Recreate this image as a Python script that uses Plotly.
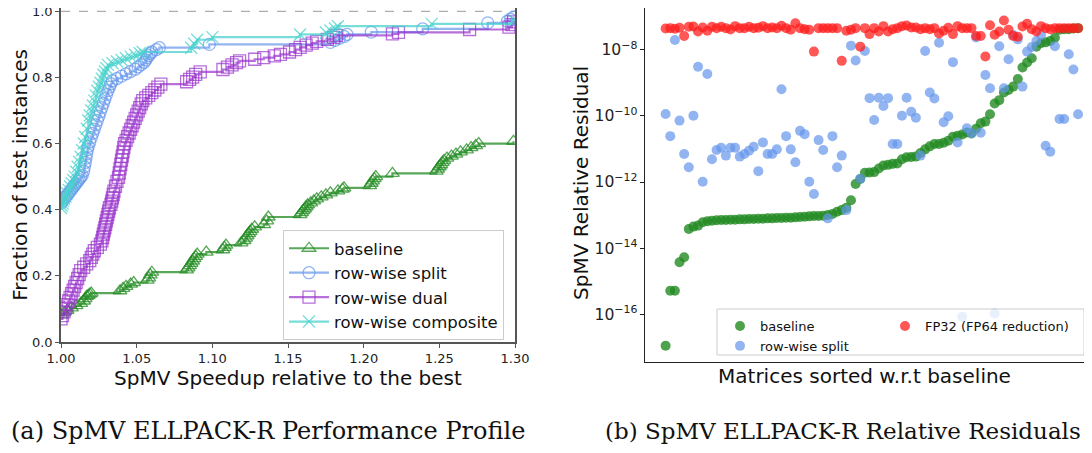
import plotly.graph_objects as go

# ---------------- (a) Performance profile ----------------
# speedup relative to the best (x) and fraction of test instances (y), step points
baseline_x = [1.000, 1.002, 1.004, 1.007, 1.010, 1.013, 1.015, 1.016, 1.017, 1.018, 1.019, 1.020,
              1.039, 1.041, 1.043, 1.046, 1.048,
              1.057, 1.058, 1.059, 1.060,
              1.083, 1.084, 1.085, 1.086, 1.087, 1.088, 1.089, 1.090, 1.096,
              1.107, 1.108, 1.109,
              1.119, 1.121, 1.122, 1.123, 1.124, 1.125, 1.126, 1.128,
              1.134, 1.136, 1.137,
              1.158, 1.159, 1.160, 1.161, 1.162, 1.163, 1.165, 1.167, 1.169, 1.172, 1.175, 1.178, 1.183, 1.186, 1.187,
              1.204, 1.205, 1.206, 1.207, 1.208,
              1.219,
              1.248, 1.249, 1.250, 1.251, 1.252, 1.253, 1.255, 1.258, 1.261, 1.264, 1.268, 1.271, 1.274, 1.276,
              1.299]
baseline_y = [0.082, 0.089, 0.096, 0.103, 0.110, 0.117, 0.124, 0.131, 0.138, 0.141, 0.145, 0.148,
              0.155, 0.162, 0.168, 0.175, 0.180,
              0.187, 0.194, 0.203, 0.211,
              0.218, 0.224, 0.231, 0.238, 0.245, 0.252, 0.259, 0.266, 0.272,
              0.279, 0.286, 0.293,
              0.300, 0.307, 0.314, 0.321, 0.328, 0.334, 0.341, 0.348,
              0.355, 0.366, 0.378,
              0.385, 0.391, 0.397, 0.403, 0.409, 0.415, 0.421, 0.427, 0.433, 0.439, 0.445, 0.451, 0.457, 0.462, 0.466,
              0.473, 0.480, 0.487, 0.494, 0.500,
              0.510,
              0.517, 0.523, 0.530, 0.536, 0.543, 0.549, 0.556, 0.562, 0.568, 0.575, 0.581, 0.588, 0.594, 0.600,
              0.607]

split_x = [1.000, 1.001, 1.002, 1.003, 1.004, 1.005, 1.006, 1.007, 1.008, 1.009, 1.010, 1.011, 1.012, 1.013, 1.014,
           1.015, 1.0155, 1.016, 1.0165, 1.017, 1.0175, 1.018,
           1.019, 1.020, 1.021, 1.022, 1.023, 1.024, 1.025, 1.026, 1.027, 1.028, 1.029, 1.030, 1.031, 1.032, 1.033, 1.034,
           1.037, 1.040, 1.043, 1.046, 1.049, 1.051, 1.053, 1.055, 1.056, 1.057, 1.058, 1.059, 1.060,
           1.063, 1.065, 1.098,
           1.178, 1.181, 1.184, 1.187, 1.189, 1.205, 1.239, 1.282, 1.295, 1.297, 1.299]
split_y = [0.420, 0.426, 0.432, 0.438, 0.444, 0.450, 0.456, 0.462, 0.468, 0.474, 0.480, 0.486, 0.492, 0.498, 0.504,
           0.517, 0.530, 0.543, 0.556, 0.569, 0.582, 0.592,
           0.605, 0.618, 0.631, 0.644, 0.657, 0.670, 0.683, 0.696, 0.709, 0.722, 0.735, 0.748, 0.760, 0.771, 0.781, 0.790,
           0.797, 0.804, 0.811, 0.818, 0.825, 0.832, 0.839, 0.846, 0.853, 0.860, 0.866, 0.872, 0.877,
           0.884, 0.890, 0.900,
           0.906, 0.912, 0.918, 0.924, 0.930, 0.937, 0.947, 0.965, 0.970, 0.976, 0.982]

dual_x = [1.000, 1.001, 1.002, 1.003, 1.004, 1.005, 1.006, 1.007, 1.008, 1.009, 1.010, 1.011, 1.012, 1.013,
          1.015, 1.017, 1.019, 1.020, 1.021, 1.022, 1.024, 1.026,
          1.027, 1.0275, 1.028, 1.0285, 1.029, 1.0295, 1.030, 1.0305, 1.031, 1.0315, 1.032,
          1.0330, 1.0335, 1.034, 1.0345, 1.035, 1.036, 1.037,
          1.038, 1.0385, 1.039, 1.0395, 1.040, 1.0405, 1.041, 1.0415, 1.042,
          1.043, 1.044, 1.045, 1.046, 1.047, 1.048, 1.049, 1.050, 1.051, 1.052, 1.053, 1.054,
          1.056, 1.058, 1.060, 1.062, 1.064, 1.066,
          1.083, 1.085, 1.087, 1.089, 1.092,
          1.107, 1.110, 1.113, 1.116, 1.118,
          1.128, 1.134, 1.141, 1.145,
          1.151, 1.155, 1.158, 1.162, 1.166, 1.169,
          1.176, 1.180, 1.182, 1.219, 1.223, 1.270, 1.296, 1.298, 1.299]
dual_y = [0.070, 0.080, 0.091, 0.102, 0.113, 0.124, 0.135, 0.146, 0.157, 0.168, 0.180, 0.192, 0.204, 0.216,
          0.226, 0.236, 0.246, 0.256, 0.266, 0.276, 0.286, 0.296,
          0.306, 0.316, 0.326, 0.336, 0.346, 0.356, 0.366, 0.376, 0.386, 0.396, 0.406,
          0.416, 0.426, 0.436, 0.446, 0.456, 0.471, 0.486,
          0.498, 0.511, 0.524, 0.537, 0.550, 0.562, 0.575, 0.588, 0.600,
          0.610, 0.621, 0.632, 0.643, 0.654, 0.665, 0.676, 0.687, 0.698, 0.709, 0.720, 0.730,
          0.738, 0.746, 0.754, 0.762, 0.771, 0.780,
          0.787, 0.794, 0.801, 0.809, 0.817,
          0.824, 0.831, 0.838, 0.845, 0.850,
          0.855, 0.860, 0.865, 0.870,
          0.877, 0.884, 0.891, 0.898, 0.904, 0.909,
          0.915, 0.921, 0.927, 0.932, 0.936, 0.945, 0.952, 0.960, 0.968]

composite_x = [1.000, 1.0005, 1.001, 1.0015, 1.002, 1.003, 1.004, 1.005, 1.006, 1.007, 1.008, 1.009, 1.010, 1.011, 1.012, 1.013,
               1.014, 1.015, 1.016, 1.017, 1.018,
               1.019, 1.020, 1.021, 1.022, 1.023, 1.024, 1.025, 1.026, 1.027, 1.028, 1.029, 1.030, 1.031,
               1.034, 1.037, 1.040, 1.043, 1.046, 1.049, 1.052, 1.054,
               1.086, 1.088, 1.090, 1.100, 1.158, 1.175, 1.178, 1.181, 1.183, 1.245, 1.299]
composite_y = [0.405, 0.412, 0.419, 0.426, 0.433, 0.440, 0.450, 0.460, 0.470, 0.480, 0.490, 0.500, 0.515, 0.530, 0.545, 0.560,
               0.580, 0.600, 0.620, 0.645, 0.670,
               0.685, 0.700, 0.715, 0.730, 0.745, 0.760, 0.772, 0.784, 0.796, 0.808, 0.818, 0.828, 0.838,
               0.843, 0.848, 0.853, 0.858, 0.863, 0.868, 0.873, 0.877,
               0.890, 0.902, 0.914, 0.922, 0.930, 0.936, 0.942, 0.948, 0.955, 0.962, 0.975]

x_ticks_a = [1.00, 1.05, 1.10, 1.15, 1.20, 1.25, 1.30]
y_ticks_a = [0.0, 0.2, 0.4, 0.6, 0.8, 1.0]

# ---------------- (b) Relative residuals (log10 of residual) ----------------
matrix_index = list(range(90))
baseline_res_log10 = [
    -16.96, -15.29, -15.29, -14.43, -14.28, -13.42, -13.35, -13.32, -13.22, -13.19,
    -13.17, -13.16, -13.15, -13.15, -13.14, -13.14, -13.13, -13.13, -13.12, -13.12,
    -13.11, -13.11, -13.10, -13.10, -13.09, -13.09, -13.08, -13.08, -13.07, -13.06,
    -13.05, -13.04, -13.03, -13.03, -13.02, -13.00, -12.97, -12.90, -12.85, -12.78,
    -12.55, -12.06, -11.91, -11.72, -11.71, -11.70, -11.59, -11.50, -11.48, -11.45,
    -11.44, -11.31, -11.25, -11.24, -11.23, -11.12, -11.01, -10.92, -10.85, -10.85,
    -10.81, -10.75, -10.63, -10.60, -10.56, -10.50, -10.53, -10.39, -10.22, -10.17,
    -9.95, -9.62, -9.52, -9.29, -9.21, -9.11, -8.88, -8.53, -8.38, -8.25,
    -7.90, -7.80, -7.77, -7.73, -7.63, -7.39, -7.37, -7.37, -7.35, -7.34]
split_res_log10 = [
    -9.94, -10.61, -7.70, -10.14, -11.15, -11.55, -9.99, -8.51, -11.99, -8.73,
    -11.31, -11.03, -10.96, -11.20, -10.96, -10.96, -11.23, -11.15, -11.05, -10.93,
    -11.67, -10.80, -11.15, -11.15, -11.01, -9.19, -10.61, -11.01, -11.40, -10.45,
    -10.55, -11.99, -12.36, -10.73, -11.03, -13.10, -10.61, -11.55, -11.20, -12.85,
    -7.87, -8.32, -11.90, -8.03, -9.46, -10.12, -9.45, -9.70, -9.46, -10.85,
    -10.85, -9.99, -9.45, -9.87, -10.05, -11.20, -8.03, -9.29, -9.47, -7.78,
    -10.19, -10.01, -8.37, -10.80, -16.08, -10.37, -10.52, -7.62, -10.51, -8.76,
    -9.16, -15.98, -7.89, -9.16, -8.28, -7.55, -7.68, -9.11, -8.05, -7.91,
    -7.73, -7.55, -10.90, -11.08, -7.89, -10.09, -10.09, -8.13, -8.59, -9.95]
fp32_res_log10 = [
    -7.35, -7.34, -7.36, -7.33, -7.58, -7.30, -7.29, -7.44, -7.32, -7.42,
    -7.30, -7.34, -7.30, -7.34, -7.38, -7.28, -7.34, -7.34, -7.30, -7.34,
    -7.33, -7.28, -7.34, -7.32, -7.34, -7.27, -7.34, -7.39, -7.19, -7.34,
    -7.37, -7.39, -8.05, -7.34, -7.34, -7.34, -7.34, -7.34, -8.33, -7.42,
    -7.39, -7.34, -7.90, -7.34, -7.52, -7.34, -7.44, -7.28, -7.44, -7.37,
    -7.34, -7.28, -7.26, -7.32, -7.32, -7.37, -7.34, -7.37, -7.34, -7.50,
    -7.42, -7.33, -7.52, -7.28, -7.34, -7.34, -7.34, -7.58, -7.58, -8.20,
    -7.25, -7.54, -7.44, -7.11, -7.39, -7.58, -7.60, -7.29, -7.21, -7.37,
    -7.44, -7.28, -7.34, -7.37, -7.34, -7.34, -7.34, -7.34, -7.34, -7.34]

# page is 1092x453; the default 8px body margin surrounds the figure
PAGE_PAD = 8
W, H = 1092 - 2 * PAGE_PAD, 453 - 2 * PAGE_PAD
FONT = "DejaVu Sans"


def px_x(p):
    return min(1.0, max(0.0, (p - PAGE_PAD) / W))


def px_y(p):
    return min(1.0, max(0.0, 1 - (p - PAGE_PAD) / H))


fig = go.Figure()

profile_series = [
    ("baseline", baseline_x, baseline_y, "rgba(34,139,34,0.75)", "triangle-up-open"),
    ("row-wise split", split_x, split_y, "rgba(100,149,237,0.7)", "circle-open"),
    ("row-wise dual", dual_x, dual_y, "rgba(153,50,204,0.7)", "square-open"),
    ("row-wise composite", composite_x, composite_y, "rgba(72,209,204,0.75)", "x-thin-open"),
]
for name, xs, ys, col, sym in profile_series:
    fig.add_trace(go.Scatter(
        x=xs, y=ys, mode="lines+markers", name=name,
        line=dict(color=col, width=2.2, shape="hv"),
        marker=dict(symbol=sym, size=12, color=col, line=dict(color=col, width=1.3)),
        xaxis="x", yaxis="y", legend="legend", legendgroup=name,
    ))

resid_series = [
    ("baseline", baseline_res_log10, "rgba(34,139,34,0.8)", "legend2"),
    ("row-wise split", split_res_log10, "rgba(100,149,237,0.7)", "legend2"),
    ("FP32 (FP64 reduction)", fp32_res_log10, "rgba(255,30,30,0.75)", "legend3"),
]
for name, vals, col, lg in resid_series:
    fig.add_trace(go.Scatter(
        x=matrix_index, y=[10 ** v for v in vals], mode="markers", name=name,
        marker=dict(symbol="circle", size=10, color=col, line=dict(width=0)),
        xaxis="x2", yaxis="y2", legend=lg, legendgroup="b_" + name,
    ))

axis_common = dict(showgrid=False, zeroline=False, ticks="outside", ticklen=4,
                   ticklabeloverflow="allow",
                   tickfont=dict(family=FONT, size=13, color="#222"))
TITLE_FONT = dict(size=20, family=FONT, color="#111")

fig.update_layout(
    width=W, height=H,
    margin=dict(l=0, r=0, t=0, b=0, autoexpand=False),
    paper_bgcolor="white", plot_bgcolor="white",
    font=dict(family=FONT, color="#111"),
    xaxis=dict(domain=[px_x(61), px_x(515)], range=[1.0, 1.3], anchor="y",
               tickvals=x_ticks_a, tickformat=".2f",
               showline=True, mirror=True, linecolor="#555", linewidth=1.5, tickcolor="#555",
               title=dict(text="SpMV Speedup relative to the best", font=TITLE_FONT, standoff=6),
               **axis_common),
    yaxis=dict(domain=[px_y(342), px_y(6)], range=[0, 1.01], anchor="x",
               tickvals=y_ticks_a, tickformat=".1f",
               showline=True, mirror=True, linecolor="#555", linewidth=1.5, tickcolor="#555",
               title=dict(text="Fraction of test instances", font=TITLE_FONT, standoff=10),
               **axis_common),
    xaxis2=dict(domain=[px_x(645), 1.0], range=[-4.45, 90.28], anchor="y2",
                showticklabels=False, showline=True, mirror=True, linecolor="#222", linewidth=1.2,
                showgrid=False, zeroline=False, ticks="",
                title=dict(text="Matrices sorted w.r.t baseline", font=TITLE_FONT, standoff=6)),
    yaxis2=dict(domain=[px_y(362), px_y(4)], type="log", range=[-17.45, -6.73], anchor="x2",
                dtick=2, exponentformat="power",
                showline=True, mirror=False, linecolor="#222", linewidth=1.2, tickcolor="#222",
                showgrid=False, zeroline=False, ticks="outside", ticklen=4,
                tickfont=dict(family=FONT, size=12.5, color="#222")),
    legend=dict(x=px_x(283), y=px_y(230), xanchor="left", yanchor="top",
                bgcolor="rgba(255,255,255,0.8)", bordercolor="#cccccc", borderwidth=1,
                font=dict(family=FONT, size=16.5, color="#111"), tracegroupgap=0, itemwidth=40),
    legend2=dict(x=px_x(720), y=px_y(311), xanchor="left", yanchor="top",
                 bgcolor="rgba(0,0,0,0)", borderwidth=0,
                 font=dict(family=FONT, size=13, color="#111"), tracegroupgap=0),
    legend3=dict(x=px_x(885), y=px_y(311), xanchor="left", yanchor="top",
                 bgcolor="rgba(0,0,0,0)", borderwidth=0,
                 font=dict(family=FONT, size=13, color="#111"), tracegroupgap=0),
    shapes=[
        dict(type="line", xref="x domain", yref="y", x0=0, x1=1, y0=1.0, y1=1.0,
             line=dict(color="#999", width=1, dash="dash"), layer="below"),
        dict(type="rect", xref="paper", yref="paper", x0=px_x(717), x1=px_x(1089),
             y0=px_y(355), y1=px_y(309), fillcolor="rgba(255,255,255,0.8)",
             line=dict(color="#cccccc", width=1), layer="above"),
    ],
    annotations=[
        dict(text="SpMV Relative Residual", xref="paper", yref="paper", textangle=-90,
             x=px_x(581), y=px_y(183), xanchor="center", yanchor="middle", showarrow=False,
             font=TITLE_FONT),
        dict(text="(a) SpMV ELLPACK-R Performance Profile", xref="paper", yref="paper",
             x=px_x(268), y=px_y(431), xanchor="center", yanchor="middle", showarrow=False,
             font=dict(family="DejaVu Serif", size=24, color="#111")),
        dict(text="(b) SpMV ELLPACK-R Relative Residuals", xref="paper", yref="paper",
             x=px_x(843), y=px_y(431), xanchor="center", yanchor="middle", showarrow=False,
             font=dict(family="DejaVu Serif", size=23, color="#111")),
    ],
)

fig.write_html("out.html", config={"displayModeBar": False})
